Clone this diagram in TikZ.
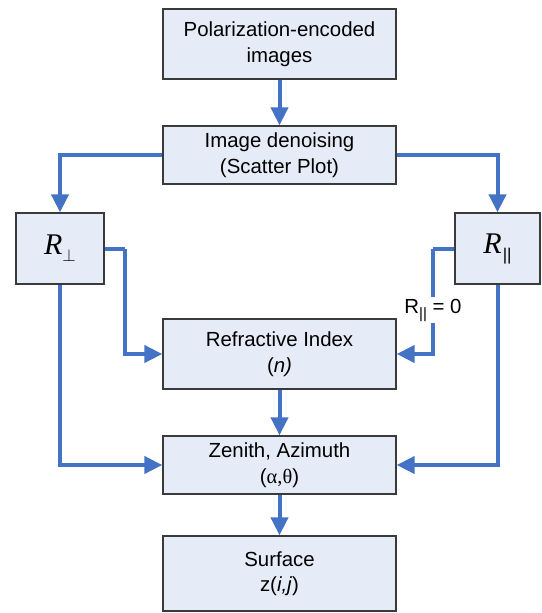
\documentclass[tikz,border=0pt]{standalone}
\usepackage{fontspec}
\setmainfont{Liberation Sans}
\newfontfamily\rfont{Liberation Serif}
\usetikzlibrary{arrows.meta}
\definecolor{flowblue}{HTML}{4472C4}
\definecolor{boxfill}{HTML}{E6ECF7}
\definecolor{boxline}{HTML}{3A3A3A}
\tikzset{
  stage/.style={draw=boxline, line width=1.3pt, fill=boxfill, rectangle,
    inner sep=0pt, align=center, font=\fontsize{20.4}{25.5}\selectfont},
  conn/.style={draw=flowblue, line width=4pt,
    -{Triangle[length=18pt,width=17pt]}},
  link/.style={draw=flowblue, line width=4pt},
  tag/.style={fill=white, inner xsep=1pt, inner ysep=2pt,
    font=\fontsize{20.4}{24}\selectfont}
}
\newcommand{\Rsym}{{\rfont\itshape\fontsize{30}{30}\selectfont R}}
\newcommand{\parsub}[2]{\raisebox{#1}{\fontsize{#2}{#2}\selectfont ||}}
\begin{document}
\begin{tikzpicture}[x=1pt,y=-1pt]
  \useasboundingbox (0,0) rectangle (541,613);

  % processing stages
  \node[stage, minimum width=88pt, minimum height=71pt] (rperp) at (60,248.5)
    {\Rsym\raisebox{-7pt}{\fontsize{18}{18}\selectfont$\perp$}};
  \node[stage, minimum width=233pt, minimum height=70pt] (img) at (279.5,44)
    {Polarization-encoded\\images};
  \node[stage, minimum width=233pt, minimum height=58pt] (den) at (279.5,155)
    {Image denoising\\(Scatter Plot)};
  \node[stage, minimum width=85pt, minimum height=71pt] (rpar) at (497.5,248.5)
    {\Rsym\kern1pt\parsub{-7pt}{17}};
  \node[stage, minimum width=233pt, minimum height=70pt] (ref) at (279.5,354)
    {Refractive Index\\(\textit{n)}};
  \node[stage, minimum width=233pt, minimum height=58pt] (zen) at (279.5,465)
    {Zenith, Azimuth\\({\rfont α,θ})};
  \node[stage, minimum width=233pt, minimum height=75pt] (surf) at (279.5,573.5)
    {Surface\\z(\textit{i,j})};

  % bends of the side branches
  \coordinate (lk) at (125,248.5);
  \coordinate (rk) at (433,248.5);

  % connectors
  \draw[conn] (img) -- (den);
  \draw[conn] (den.west) -| (rperp.north);
  \draw[conn] (den.east) -| (rpar.north);
  \draw[link] (rperp.east) -- (lk);
  \draw[conn] (lk) |- (ref.west);
  \draw[conn] (rperp.south) |- (zen.west);
  \draw[link] (rpar.west) -- (rk);
  \draw[conn] (rk) |- (ref.east);
  \draw[conn] (rpar.south) |- (zen.east);
  \draw[conn] (ref) -- (zen);
  \draw[conn] (zen) -- (surf);

  % condition on the right branch
  \node[tag] (cond) at (433,310) {R\parsub{-5pt}{15} = 0};
\end{tikzpicture}
\end{document}
